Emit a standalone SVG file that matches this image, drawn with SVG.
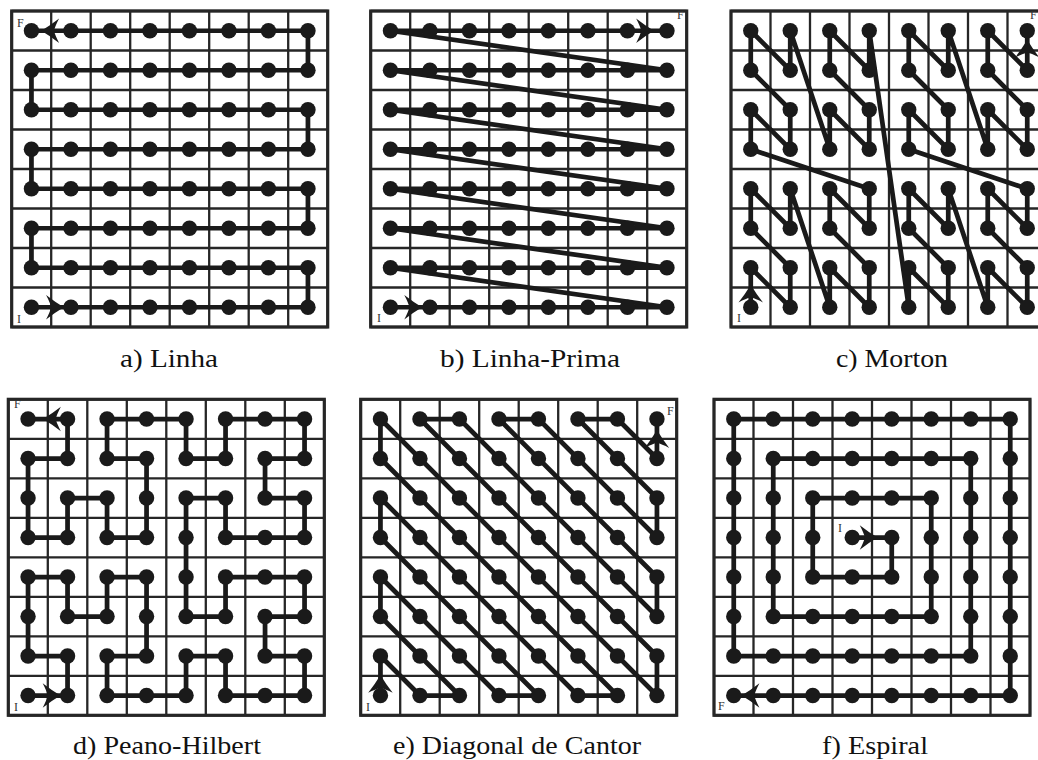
<svg xmlns="http://www.w3.org/2000/svg" xmlns:xlink="http://www.w3.org/1999/xlink" width="1038" height="760" viewBox="0 0 1038 760">
<style>
.gl{fill:none;stroke:#262626;stroke-width:0.058}
.gb{fill:none;stroke:#262626;stroke-width:0.08}
.cn{fill:none;stroke:#1a1a1a;stroke-width:0.12;stroke-linejoin:round;stroke-linecap:round}
.dots circle{fill:#1a1a1a}
.ah{fill:#1a1a1a}
.lab{font-family:"Liberation Serif",serif;font-size:12px;fill:#333}
.cap{font-family:"Liberation Serif",serif;font-size:25.5px;fill:#111;text-anchor:middle}
</style>
<defs>
<g id="grid"><path class="gl" d="M-0.5,-0.5V7.5M0.5,-0.5V7.5M1.5,-0.5V7.5M2.5,-0.5V7.5M3.5,-0.5V7.5M4.5,-0.5V7.5M5.5,-0.5V7.5M6.5,-0.5V7.5M7.5,-0.5V7.5M-0.5,-0.5H7.5M-0.5,0.5H7.5M-0.5,1.5H7.5M-0.5,2.5H7.5M-0.5,3.5H7.5M-0.5,4.5H7.5M-0.5,5.5H7.5M-0.5,6.5H7.5M-0.5,7.5H7.5"/><rect class="gb" x="-0.5" y="-0.5" width="8" height="8"/></g>
<path id="arr" class="ah" d="M0.02,0 Q-0.2,-0.13 -0.43,-0.31 Q-0.33,-0.12 -0.3,0 Q-0.33,0.12 -0.43,0.31 Q-0.2,0.13 0.02,0Z"/>
</defs>
<rect width="1038" height="760" fill="#fff"/>

<!-- Panel a: Linha -->
<g id="panel-a" transform="translate(31.45,30.75) scale(39.5)">
<use href="#grid"/>
<g id="a-connectors"><path class="cn" d="M0,7 H7 V6 H0 V5 H7 V4 H0 V3 H7 V2 H0 V1 H7 V0 H0"/>
<use href="#arr" transform="translate(0.8,7)"/><use href="#arr" transform="translate(0.27,0) rotate(180)"/></g>
<g class="dots">
<g id="a00"><circle cx="0" cy="0" r=".195"/></g><g id="a01"><circle cx="1" cy="0" r=".195"/></g><g id="a02"><circle cx="2" cy="0" r=".195"/></g><g id="a03"><circle cx="3" cy="0" r=".195"/></g><g id="a04"><circle cx="4" cy="0" r=".195"/></g><g id="a05"><circle cx="5" cy="0" r=".195"/></g><g id="a06"><circle cx="6" cy="0" r=".195"/></g><g id="a07"><circle cx="7" cy="0" r=".195"/></g>
<g id="a10"><circle cx="0" cy="1" r=".195"/></g><g id="a11"><circle cx="1" cy="1" r=".195"/></g><g id="a12"><circle cx="2" cy="1" r=".195"/></g><g id="a13"><circle cx="3" cy="1" r=".195"/></g><g id="a14"><circle cx="4" cy="1" r=".195"/></g><g id="a15"><circle cx="5" cy="1" r=".195"/></g><g id="a16"><circle cx="6" cy="1" r=".195"/></g><g id="a17"><circle cx="7" cy="1" r=".195"/></g>
<g id="a20"><circle cx="0" cy="2" r=".195"/></g><g id="a21"><circle cx="1" cy="2" r=".195"/></g><g id="a22"><circle cx="2" cy="2" r=".195"/></g><g id="a23"><circle cx="3" cy="2" r=".195"/></g><g id="a24"><circle cx="4" cy="2" r=".195"/></g><g id="a25"><circle cx="5" cy="2" r=".195"/></g><g id="a26"><circle cx="6" cy="2" r=".195"/></g><g id="a27"><circle cx="7" cy="2" r=".195"/></g>
<g id="a30"><circle cx="0" cy="3" r=".195"/></g><g id="a31"><circle cx="1" cy="3" r=".195"/></g><g id="a32"><circle cx="2" cy="3" r=".195"/></g><g id="a33"><circle cx="3" cy="3" r=".195"/></g><g id="a34"><circle cx="4" cy="3" r=".195"/></g><g id="a35"><circle cx="5" cy="3" r=".195"/></g><g id="a36"><circle cx="6" cy="3" r=".195"/></g><g id="a37"><circle cx="7" cy="3" r=".195"/></g>
<g id="a40"><circle cx="0" cy="4" r=".195"/></g><g id="a41"><circle cx="1" cy="4" r=".195"/></g><g id="a42"><circle cx="2" cy="4" r=".195"/></g><g id="a43"><circle cx="3" cy="4" r=".195"/></g><g id="a44"><circle cx="4" cy="4" r=".195"/></g><g id="a45"><circle cx="5" cy="4" r=".195"/></g><g id="a46"><circle cx="6" cy="4" r=".195"/></g><g id="a47"><circle cx="7" cy="4" r=".195"/></g>
<g id="a50"><circle cx="0" cy="5" r=".195"/></g><g id="a51"><circle cx="1" cy="5" r=".195"/></g><g id="a52"><circle cx="2" cy="5" r=".195"/></g><g id="a53"><circle cx="3" cy="5" r=".195"/></g><g id="a54"><circle cx="4" cy="5" r=".195"/></g><g id="a55"><circle cx="5" cy="5" r=".195"/></g><g id="a56"><circle cx="6" cy="5" r=".195"/></g><g id="a57"><circle cx="7" cy="5" r=".195"/></g>
<g id="a60"><circle cx="0" cy="6" r=".195"/></g><g id="a61"><circle cx="1" cy="6" r=".195"/></g><g id="a62"><circle cx="2" cy="6" r=".195"/></g><g id="a63"><circle cx="3" cy="6" r=".195"/></g><g id="a64"><circle cx="4" cy="6" r=".195"/></g><g id="a65"><circle cx="5" cy="6" r=".195"/></g><g id="a66"><circle cx="6" cy="6" r=".195"/></g><g id="a67"><circle cx="7" cy="6" r=".195"/></g>
<g id="a70"><circle cx="0" cy="7" r=".195"/></g><g id="a71"><circle cx="1" cy="7" r=".195"/></g><g id="a72"><circle cx="2" cy="7" r=".195"/></g><g id="a73"><circle cx="3" cy="7" r=".195"/></g><g id="a74"><circle cx="4" cy="7" r=".195"/></g><g id="a75"><circle cx="5" cy="7" r=".195"/></g><g id="a76"><circle cx="6" cy="7" r=".195"/></g><g id="a77"><circle cx="7" cy="7" r=".195"/></g>
</g>
</g>

<!-- Panel b: Linha-Prima -->
<g id="panel-b" transform="translate(390.45,30.75) scale(39.5)">
<use href="#grid"/>
<g id="b-connectors"><path class="cn" d="M0,7 H7 L0,6 H7 L0,5 H7 L0,4 H7 L0,3 H7 L0,2 H7 L0,1 H7 L0,0 H7"/>
<use href="#arr" transform="translate(0.78,7)"/><use href="#arr" transform="translate(6.65,0)"/></g>
<g class="dots">
<g id="b00"><circle cx="0" cy="0" r=".195"/></g><g id="b01"><circle cx="1" cy="0" r=".195"/></g><g id="b02"><circle cx="2" cy="0" r=".195"/></g><g id="b03"><circle cx="3" cy="0" r=".195"/></g><g id="b04"><circle cx="4" cy="0" r=".195"/></g><g id="b05"><circle cx="5" cy="0" r=".195"/></g><g id="b06"><circle cx="6" cy="0" r=".195"/></g><g id="b07"><circle cx="7" cy="0" r=".195"/></g>
<g id="b10"><circle cx="0" cy="1" r=".195"/></g><g id="b11"><circle cx="1" cy="1" r=".195"/></g><g id="b12"><circle cx="2" cy="1" r=".195"/></g><g id="b13"><circle cx="3" cy="1" r=".195"/></g><g id="b14"><circle cx="4" cy="1" r=".195"/></g><g id="b15"><circle cx="5" cy="1" r=".195"/></g><g id="b16"><circle cx="6" cy="1" r=".195"/></g><g id="b17"><circle cx="7" cy="1" r=".195"/></g>
<g id="b20"><circle cx="0" cy="2" r=".195"/></g><g id="b21"><circle cx="1" cy="2" r=".195"/></g><g id="b22"><circle cx="2" cy="2" r=".195"/></g><g id="b23"><circle cx="3" cy="2" r=".195"/></g><g id="b24"><circle cx="4" cy="2" r=".195"/></g><g id="b25"><circle cx="5" cy="2" r=".195"/></g><g id="b26"><circle cx="6" cy="2" r=".195"/></g><g id="b27"><circle cx="7" cy="2" r=".195"/></g>
<g id="b30"><circle cx="0" cy="3" r=".195"/></g><g id="b31"><circle cx="1" cy="3" r=".195"/></g><g id="b32"><circle cx="2" cy="3" r=".195"/></g><g id="b33"><circle cx="3" cy="3" r=".195"/></g><g id="b34"><circle cx="4" cy="3" r=".195"/></g><g id="b35"><circle cx="5" cy="3" r=".195"/></g><g id="b36"><circle cx="6" cy="3" r=".195"/></g><g id="b37"><circle cx="7" cy="3" r=".195"/></g>
<g id="b40"><circle cx="0" cy="4" r=".195"/></g><g id="b41"><circle cx="1" cy="4" r=".195"/></g><g id="b42"><circle cx="2" cy="4" r=".195"/></g><g id="b43"><circle cx="3" cy="4" r=".195"/></g><g id="b44"><circle cx="4" cy="4" r=".195"/></g><g id="b45"><circle cx="5" cy="4" r=".195"/></g><g id="b46"><circle cx="6" cy="4" r=".195"/></g><g id="b47"><circle cx="7" cy="4" r=".195"/></g>
<g id="b50"><circle cx="0" cy="5" r=".195"/></g><g id="b51"><circle cx="1" cy="5" r=".195"/></g><g id="b52"><circle cx="2" cy="5" r=".195"/></g><g id="b53"><circle cx="3" cy="5" r=".195"/></g><g id="b54"><circle cx="4" cy="5" r=".195"/></g><g id="b55"><circle cx="5" cy="5" r=".195"/></g><g id="b56"><circle cx="6" cy="5" r=".195"/></g><g id="b57"><circle cx="7" cy="5" r=".195"/></g>
<g id="b60"><circle cx="0" cy="6" r=".195"/></g><g id="b61"><circle cx="1" cy="6" r=".195"/></g><g id="b62"><circle cx="2" cy="6" r=".195"/></g><g id="b63"><circle cx="3" cy="6" r=".195"/></g><g id="b64"><circle cx="4" cy="6" r=".195"/></g><g id="b65"><circle cx="5" cy="6" r=".195"/></g><g id="b66"><circle cx="6" cy="6" r=".195"/></g><g id="b67"><circle cx="7" cy="6" r=".195"/></g>
<g id="b70"><circle cx="0" cy="7" r=".195"/></g><g id="b71"><circle cx="1" cy="7" r=".195"/></g><g id="b72"><circle cx="2" cy="7" r=".195"/></g><g id="b73"><circle cx="3" cy="7" r=".195"/></g><g id="b74"><circle cx="4" cy="7" r=".195"/></g><g id="b75"><circle cx="5" cy="7" r=".195"/></g><g id="b76"><circle cx="6" cy="7" r=".195"/></g><g id="b77"><circle cx="7" cy="7" r=".195"/></g>
</g>
</g>

<!-- Panel c: Morton -->
<g id="panel-c" transform="translate(750.75,30.75) scale(39.5)">
<use href="#grid"/>
<g id="c-connectors"><path class="cn" d="M0,7 L0,6 L1,7 L1,6 L0,5 L0,4 L1,5 L1,4 L2,7 L2,6 L3,7 L3,6 L2,5 L2,4 L3,5 L3,4 L0,3 L0,2 L1,3 L1,2 L0,1 L0,0 L1,1 L1,0 L2,3 L2,2 L3,3 L3,2 L2,1 L2,0 L3,1 L3,0 L4,7 L4,6 L5,7 L5,6 L4,5 L4,4 L5,5 L5,4 L6,7 L6,6 L7,7 L7,6 L6,5 L6,4 L7,5 L7,4 L4,3 L4,2 L5,3 L5,2 L4,1 L4,0 L5,1 L5,0 L6,3 L6,2 L7,3 L7,2 L6,1 L6,0 L7,1 L7,0"/>
<use href="#arr" transform="translate(0,6.45) rotate(-90)"/><use href="#arr" transform="translate(7,0.25) rotate(-90)"/></g>
<g class="dots">
<g id="c00"><circle cx="0" cy="0" r=".195"/></g><g id="c01"><circle cx="1" cy="0" r=".195"/></g><g id="c02"><circle cx="2" cy="0" r=".195"/></g><g id="c03"><circle cx="3" cy="0" r=".195"/></g><g id="c04"><circle cx="4" cy="0" r=".195"/></g><g id="c05"><circle cx="5" cy="0" r=".195"/></g><g id="c06"><circle cx="6" cy="0" r=".195"/></g><g id="c07"><circle cx="7" cy="0" r=".195"/></g>
<g id="c10"><circle cx="0" cy="1" r=".195"/></g><g id="c11"><circle cx="1" cy="1" r=".195"/></g><g id="c12"><circle cx="2" cy="1" r=".195"/></g><g id="c13"><circle cx="3" cy="1" r=".195"/></g><g id="c14"><circle cx="4" cy="1" r=".195"/></g><g id="c15"><circle cx="5" cy="1" r=".195"/></g><g id="c16"><circle cx="6" cy="1" r=".195"/></g><g id="c17"><circle cx="7" cy="1" r=".195"/></g>
<g id="c20"><circle cx="0" cy="2" r=".195"/></g><g id="c21"><circle cx="1" cy="2" r=".195"/></g><g id="c22"><circle cx="2" cy="2" r=".195"/></g><g id="c23"><circle cx="3" cy="2" r=".195"/></g><g id="c24"><circle cx="4" cy="2" r=".195"/></g><g id="c25"><circle cx="5" cy="2" r=".195"/></g><g id="c26"><circle cx="6" cy="2" r=".195"/></g><g id="c27"><circle cx="7" cy="2" r=".195"/></g>
<g id="c30"><circle cx="0" cy="3" r=".195"/></g><g id="c31"><circle cx="1" cy="3" r=".195"/></g><g id="c32"><circle cx="2" cy="3" r=".195"/></g><g id="c33"><circle cx="3" cy="3" r=".195"/></g><g id="c34"><circle cx="4" cy="3" r=".195"/></g><g id="c35"><circle cx="5" cy="3" r=".195"/></g><g id="c36"><circle cx="6" cy="3" r=".195"/></g><g id="c37"><circle cx="7" cy="3" r=".195"/></g>
<g id="c40"><circle cx="0" cy="4" r=".195"/></g><g id="c41"><circle cx="1" cy="4" r=".195"/></g><g id="c42"><circle cx="2" cy="4" r=".195"/></g><g id="c43"><circle cx="3" cy="4" r=".195"/></g><g id="c44"><circle cx="4" cy="4" r=".195"/></g><g id="c45"><circle cx="5" cy="4" r=".195"/></g><g id="c46"><circle cx="6" cy="4" r=".195"/></g><g id="c47"><circle cx="7" cy="4" r=".195"/></g>
<g id="c50"><circle cx="0" cy="5" r=".195"/></g><g id="c51"><circle cx="1" cy="5" r=".195"/></g><g id="c52"><circle cx="2" cy="5" r=".195"/></g><g id="c53"><circle cx="3" cy="5" r=".195"/></g><g id="c54"><circle cx="4" cy="5" r=".195"/></g><g id="c55"><circle cx="5" cy="5" r=".195"/></g><g id="c56"><circle cx="6" cy="5" r=".195"/></g><g id="c57"><circle cx="7" cy="5" r=".195"/></g>
<g id="c60"><circle cx="0" cy="6" r=".195"/></g><g id="c61"><circle cx="1" cy="6" r=".195"/></g><g id="c62"><circle cx="2" cy="6" r=".195"/></g><g id="c63"><circle cx="3" cy="6" r=".195"/></g><g id="c64"><circle cx="4" cy="6" r=".195"/></g><g id="c65"><circle cx="5" cy="6" r=".195"/></g><g id="c66"><circle cx="6" cy="6" r=".195"/></g><g id="c67"><circle cx="7" cy="6" r=".195"/></g>
<g id="c70"><circle cx="0" cy="7" r=".195"/></g><g id="c71"><circle cx="1" cy="7" r=".195"/></g><g id="c72"><circle cx="2" cy="7" r=".195"/></g><g id="c73"><circle cx="3" cy="7" r=".195"/></g><g id="c74"><circle cx="4" cy="7" r=".195"/></g><g id="c75"><circle cx="5" cy="7" r=".195"/></g><g id="c76"><circle cx="6" cy="7" r=".195"/></g><g id="c77"><circle cx="7" cy="7" r=".195"/></g>
</g>
</g>

<!-- Panel d: Peano-Hilbert -->
<g id="panel-d" transform="translate(28.05,419.05) scale(39.5)">
<use href="#grid"/>
<g id="d-connectors"><path class="cn" d="M0,7 L1,7 L1,6 L0,6 L0,5 L0,4 L1,4 L1,5 L2,5 L2,4 L3,4 L3,5 L3,6 L2,6 L2,7 L3,7 L4,7 L4,6 L5,6 L5,7 L6,7 L7,7 L7,6 L6,6 L6,5 L7,5 L7,4 L6,4 L5,4 L5,5 L4,5 L4,4 L4,3 L4,2 L5,2 L5,3 L6,3 L7,3 L7,2 L6,2 L6,1 L7,1 L7,0 L6,0 L5,0 L5,1 L4,1 L4,0 L3,0 L2,0 L2,1 L3,1 L3,2 L3,3 L2,3 L2,2 L1,2 L1,3 L0,3 L0,2 L0,1 L1,1 L1,0 L0,0"/>
<use href="#arr" transform="translate(0.8,7)"/><use href="#arr" transform="translate(0.4,0) rotate(180)"/></g>
<g class="dots">
<g id="d00"><circle cx="0" cy="0" r=".195"/></g><g id="d01"><circle cx="1" cy="0" r=".195"/></g><g id="d02"><circle cx="2" cy="0" r=".195"/></g><g id="d03"><circle cx="3" cy="0" r=".195"/></g><g id="d04"><circle cx="4" cy="0" r=".195"/></g><g id="d05"><circle cx="5" cy="0" r=".195"/></g><g id="d06"><circle cx="6" cy="0" r=".195"/></g><g id="d07"><circle cx="7" cy="0" r=".195"/></g>
<g id="d10"><circle cx="0" cy="1" r=".195"/></g><g id="d11"><circle cx="1" cy="1" r=".195"/></g><g id="d12"><circle cx="2" cy="1" r=".195"/></g><g id="d13"><circle cx="3" cy="1" r=".195"/></g><g id="d14"><circle cx="4" cy="1" r=".195"/></g><g id="d15"><circle cx="5" cy="1" r=".195"/></g><g id="d16"><circle cx="6" cy="1" r=".195"/></g><g id="d17"><circle cx="7" cy="1" r=".195"/></g>
<g id="d20"><circle cx="0" cy="2" r=".195"/></g><g id="d21"><circle cx="1" cy="2" r=".195"/></g><g id="d22"><circle cx="2" cy="2" r=".195"/></g><g id="d23"><circle cx="3" cy="2" r=".195"/></g><g id="d24"><circle cx="4" cy="2" r=".195"/></g><g id="d25"><circle cx="5" cy="2" r=".195"/></g><g id="d26"><circle cx="6" cy="2" r=".195"/></g><g id="d27"><circle cx="7" cy="2" r=".195"/></g>
<g id="d30"><circle cx="0" cy="3" r=".195"/></g><g id="d31"><circle cx="1" cy="3" r=".195"/></g><g id="d32"><circle cx="2" cy="3" r=".195"/></g><g id="d33"><circle cx="3" cy="3" r=".195"/></g><g id="d34"><circle cx="4" cy="3" r=".195"/></g><g id="d35"><circle cx="5" cy="3" r=".195"/></g><g id="d36"><circle cx="6" cy="3" r=".195"/></g><g id="d37"><circle cx="7" cy="3" r=".195"/></g>
<g id="d40"><circle cx="0" cy="4" r=".195"/></g><g id="d41"><circle cx="1" cy="4" r=".195"/></g><g id="d42"><circle cx="2" cy="4" r=".195"/></g><g id="d43"><circle cx="3" cy="4" r=".195"/></g><g id="d44"><circle cx="4" cy="4" r=".195"/></g><g id="d45"><circle cx="5" cy="4" r=".195"/></g><g id="d46"><circle cx="6" cy="4" r=".195"/></g><g id="d47"><circle cx="7" cy="4" r=".195"/></g>
<g id="d50"><circle cx="0" cy="5" r=".195"/></g><g id="d51"><circle cx="1" cy="5" r=".195"/></g><g id="d52"><circle cx="2" cy="5" r=".195"/></g><g id="d53"><circle cx="3" cy="5" r=".195"/></g><g id="d54"><circle cx="4" cy="5" r=".195"/></g><g id="d55"><circle cx="5" cy="5" r=".195"/></g><g id="d56"><circle cx="6" cy="5" r=".195"/></g><g id="d57"><circle cx="7" cy="5" r=".195"/></g>
<g id="d60"><circle cx="0" cy="6" r=".195"/></g><g id="d61"><circle cx="1" cy="6" r=".195"/></g><g id="d62"><circle cx="2" cy="6" r=".195"/></g><g id="d63"><circle cx="3" cy="6" r=".195"/></g><g id="d64"><circle cx="4" cy="6" r=".195"/></g><g id="d65"><circle cx="5" cy="6" r=".195"/></g><g id="d66"><circle cx="6" cy="6" r=".195"/></g><g id="d67"><circle cx="7" cy="6" r=".195"/></g>
<g id="d70"><circle cx="0" cy="7" r=".195"/></g><g id="d71"><circle cx="1" cy="7" r=".195"/></g><g id="d72"><circle cx="2" cy="7" r=".195"/></g><g id="d73"><circle cx="3" cy="7" r=".195"/></g><g id="d74"><circle cx="4" cy="7" r=".195"/></g><g id="d75"><circle cx="5" cy="7" r=".195"/></g><g id="d76"><circle cx="6" cy="7" r=".195"/></g><g id="d77"><circle cx="7" cy="7" r=".195"/></g>
</g>
</g>

<!-- Panel e: Diagonal de Cantor -->
<g id="panel-e" transform="translate(380.45,419.05) scale(39.5)">
<use href="#grid"/>
<g id="e-connectors"><path class="cn" d="M0,7 L0,6 L1,7 L2,7 L0,5 L0,4 L3,7 L4,7 L0,3 L0,2 L5,7 L6,7 L0,1 L0,0 L7,7 L7,6 L1,0 L2,0 L7,5 L7,4 L3,0 L4,0 L7,3 L7,2 L5,0 L6,0 L7,1 L7,0"/>
<use href="#arr" transform="translate(0,6.5) rotate(-90)"/><use href="#arr" transform="translate(7,0.3) rotate(-90)"/></g>
<g class="dots">
<g id="e00"><circle cx="0" cy="0" r=".195"/></g><g id="e01"><circle cx="1" cy="0" r=".195"/></g><g id="e02"><circle cx="2" cy="0" r=".195"/></g><g id="e03"><circle cx="3" cy="0" r=".195"/></g><g id="e04"><circle cx="4" cy="0" r=".195"/></g><g id="e05"><circle cx="5" cy="0" r=".195"/></g><g id="e06"><circle cx="6" cy="0" r=".195"/></g><g id="e07"><circle cx="7" cy="0" r=".195"/></g>
<g id="e10"><circle cx="0" cy="1" r=".195"/></g><g id="e11"><circle cx="1" cy="1" r=".195"/></g><g id="e12"><circle cx="2" cy="1" r=".195"/></g><g id="e13"><circle cx="3" cy="1" r=".195"/></g><g id="e14"><circle cx="4" cy="1" r=".195"/></g><g id="e15"><circle cx="5" cy="1" r=".195"/></g><g id="e16"><circle cx="6" cy="1" r=".195"/></g><g id="e17"><circle cx="7" cy="1" r=".195"/></g>
<g id="e20"><circle cx="0" cy="2" r=".195"/></g><g id="e21"><circle cx="1" cy="2" r=".195"/></g><g id="e22"><circle cx="2" cy="2" r=".195"/></g><g id="e23"><circle cx="3" cy="2" r=".195"/></g><g id="e24"><circle cx="4" cy="2" r=".195"/></g><g id="e25"><circle cx="5" cy="2" r=".195"/></g><g id="e26"><circle cx="6" cy="2" r=".195"/></g><g id="e27"><circle cx="7" cy="2" r=".195"/></g>
<g id="e30"><circle cx="0" cy="3" r=".195"/></g><g id="e31"><circle cx="1" cy="3" r=".195"/></g><g id="e32"><circle cx="2" cy="3" r=".195"/></g><g id="e33"><circle cx="3" cy="3" r=".195"/></g><g id="e34"><circle cx="4" cy="3" r=".195"/></g><g id="e35"><circle cx="5" cy="3" r=".195"/></g><g id="e36"><circle cx="6" cy="3" r=".195"/></g><g id="e37"><circle cx="7" cy="3" r=".195"/></g>
<g id="e40"><circle cx="0" cy="4" r=".195"/></g><g id="e41"><circle cx="1" cy="4" r=".195"/></g><g id="e42"><circle cx="2" cy="4" r=".195"/></g><g id="e43"><circle cx="3" cy="4" r=".195"/></g><g id="e44"><circle cx="4" cy="4" r=".195"/></g><g id="e45"><circle cx="5" cy="4" r=".195"/></g><g id="e46"><circle cx="6" cy="4" r=".195"/></g><g id="e47"><circle cx="7" cy="4" r=".195"/></g>
<g id="e50"><circle cx="0" cy="5" r=".195"/></g><g id="e51"><circle cx="1" cy="5" r=".195"/></g><g id="e52"><circle cx="2" cy="5" r=".195"/></g><g id="e53"><circle cx="3" cy="5" r=".195"/></g><g id="e54"><circle cx="4" cy="5" r=".195"/></g><g id="e55"><circle cx="5" cy="5" r=".195"/></g><g id="e56"><circle cx="6" cy="5" r=".195"/></g><g id="e57"><circle cx="7" cy="5" r=".195"/></g>
<g id="e60"><circle cx="0" cy="6" r=".195"/></g><g id="e61"><circle cx="1" cy="6" r=".195"/></g><g id="e62"><circle cx="2" cy="6" r=".195"/></g><g id="e63"><circle cx="3" cy="6" r=".195"/></g><g id="e64"><circle cx="4" cy="6" r=".195"/></g><g id="e65"><circle cx="5" cy="6" r=".195"/></g><g id="e66"><circle cx="6" cy="6" r=".195"/></g><g id="e67"><circle cx="7" cy="6" r=".195"/></g>
<g id="e70"><circle cx="0" cy="7" r=".195"/></g><g id="e71"><circle cx="1" cy="7" r=".195"/></g><g id="e72"><circle cx="2" cy="7" r=".195"/></g><g id="e73"><circle cx="3" cy="7" r=".195"/></g><g id="e74"><circle cx="4" cy="7" r=".195"/></g><g id="e75"><circle cx="5" cy="7" r=".195"/></g><g id="e76"><circle cx="6" cy="7" r=".195"/></g><g id="e77"><circle cx="7" cy="7" r=".195"/></g>
</g>
</g>

<!-- Panel f: Espiral -->
<g id="panel-f" transform="translate(733.75,419.05) scale(39.5)">
<use href="#grid"/>
<g id="f-connectors"><path class="cn" d="M3,3 L4,3 L4,4 L2,4 L2,2 L5,2 L5,5 L1,5 L1,1 L6,1 L6,6 L0,6 L0,0 L7,0 L7,7 L0,7"/>
<use href="#arr" transform="translate(3.62,3)"/><use href="#arr" transform="translate(0.22,7) rotate(180)"/></g>
<g class="dots">
<g id="f00"><circle cx="0" cy="0" r=".195"/></g><g id="f01"><circle cx="1" cy="0" r=".195"/></g><g id="f02"><circle cx="2" cy="0" r=".195"/></g><g id="f03"><circle cx="3" cy="0" r=".195"/></g><g id="f04"><circle cx="4" cy="0" r=".195"/></g><g id="f05"><circle cx="5" cy="0" r=".195"/></g><g id="f06"><circle cx="6" cy="0" r=".195"/></g><g id="f07"><circle cx="7" cy="0" r=".195"/></g>
<g id="f10"><circle cx="0" cy="1" r=".195"/></g><g id="f11"><circle cx="1" cy="1" r=".195"/></g><g id="f12"><circle cx="2" cy="1" r=".195"/></g><g id="f13"><circle cx="3" cy="1" r=".195"/></g><g id="f14"><circle cx="4" cy="1" r=".195"/></g><g id="f15"><circle cx="5" cy="1" r=".195"/></g><g id="f16"><circle cx="6" cy="1" r=".195"/></g><g id="f17"><circle cx="7" cy="1" r=".195"/></g>
<g id="f20"><circle cx="0" cy="2" r=".195"/></g><g id="f21"><circle cx="1" cy="2" r=".195"/></g><g id="f22"><circle cx="2" cy="2" r=".195"/></g><g id="f23"><circle cx="3" cy="2" r=".195"/></g><g id="f24"><circle cx="4" cy="2" r=".195"/></g><g id="f25"><circle cx="5" cy="2" r=".195"/></g><g id="f26"><circle cx="6" cy="2" r=".195"/></g><g id="f27"><circle cx="7" cy="2" r=".195"/></g>
<g id="f30"><circle cx="0" cy="3" r=".195"/></g><g id="f31"><circle cx="1" cy="3" r=".195"/></g><g id="f32"><circle cx="2" cy="3" r=".195"/></g><g id="f33"><circle cx="3" cy="3" r=".195"/></g><g id="f34"><circle cx="4" cy="3" r=".195"/></g><g id="f35"><circle cx="5" cy="3" r=".195"/></g><g id="f36"><circle cx="6" cy="3" r=".195"/></g><g id="f37"><circle cx="7" cy="3" r=".195"/></g>
<g id="f40"><circle cx="0" cy="4" r=".195"/></g><g id="f41"><circle cx="1" cy="4" r=".195"/></g><g id="f42"><circle cx="2" cy="4" r=".195"/></g><g id="f43"><circle cx="3" cy="4" r=".195"/></g><g id="f44"><circle cx="4" cy="4" r=".195"/></g><g id="f45"><circle cx="5" cy="4" r=".195"/></g><g id="f46"><circle cx="6" cy="4" r=".195"/></g><g id="f47"><circle cx="7" cy="4" r=".195"/></g>
<g id="f50"><circle cx="0" cy="5" r=".195"/></g><g id="f51"><circle cx="1" cy="5" r=".195"/></g><g id="f52"><circle cx="2" cy="5" r=".195"/></g><g id="f53"><circle cx="3" cy="5" r=".195"/></g><g id="f54"><circle cx="4" cy="5" r=".195"/></g><g id="f55"><circle cx="5" cy="5" r=".195"/></g><g id="f56"><circle cx="6" cy="5" r=".195"/></g><g id="f57"><circle cx="7" cy="5" r=".195"/></g>
<g id="f60"><circle cx="0" cy="6" r=".195"/></g><g id="f61"><circle cx="1" cy="6" r=".195"/></g><g id="f62"><circle cx="2" cy="6" r=".195"/></g><g id="f63"><circle cx="3" cy="6" r=".195"/></g><g id="f64"><circle cx="4" cy="6" r=".195"/></g><g id="f65"><circle cx="5" cy="6" r=".195"/></g><g id="f66"><circle cx="6" cy="6" r=".195"/></g><g id="f67"><circle cx="7" cy="6" r=".195"/></g>
<g id="f70"><circle cx="0" cy="7" r=".195"/></g><g id="f71"><circle cx="1" cy="7" r=".195"/></g><g id="f72"><circle cx="2" cy="7" r=".195"/></g><g id="f73"><circle cx="3" cy="7" r=".195"/></g><g id="f74"><circle cx="4" cy="7" r=".195"/></g><g id="f75"><circle cx="5" cy="7" r=".195"/></g><g id="f76"><circle cx="6" cy="7" r=".195"/></g><g id="f77"><circle cx="7" cy="7" r=".195"/></g>
</g>
</g>

<g id="labels">
<text class="lab" x="17" y="27">F</text><text class="lab" x="17" y="323">I</text>
<text class="lab" x="677" y="19">F</text><text class="lab" x="377" y="322">I</text>
<text class="lab" x="1030" y="19">F</text><text class="lab" x="737" y="322">I</text>
<text class="lab" x="14" y="408">F</text><text class="lab" x="14" y="711">I</text>
<text class="lab" x="667" y="415">F</text><text class="lab" x="366" y="711">I</text>
<text class="lab" x="718" y="710">F</text><text class="lab" x="838" y="532">I</text>
</g>
<g id="captions">
<text class="cap" x="169" y="366.5" textLength="98" lengthAdjust="spacingAndGlyphs">a) Linha</text>
<text class="cap" x="530" y="366.5" textLength="180" lengthAdjust="spacingAndGlyphs">b) Linha-Prima</text>
<text class="cap" x="892" y="366.5" textLength="112" lengthAdjust="spacingAndGlyphs">c) Morton</text>
<text class="cap" x="167" y="754" textLength="188" lengthAdjust="spacingAndGlyphs">d) Peano-Hilbert</text>
<text class="cap" x="517" y="754" textLength="248" lengthAdjust="spacingAndGlyphs">e) Diagonal de Cantor</text>
<text class="cap" x="875" y="754" textLength="106" lengthAdjust="spacingAndGlyphs">f) Espiral</text>
</g>
</svg>
